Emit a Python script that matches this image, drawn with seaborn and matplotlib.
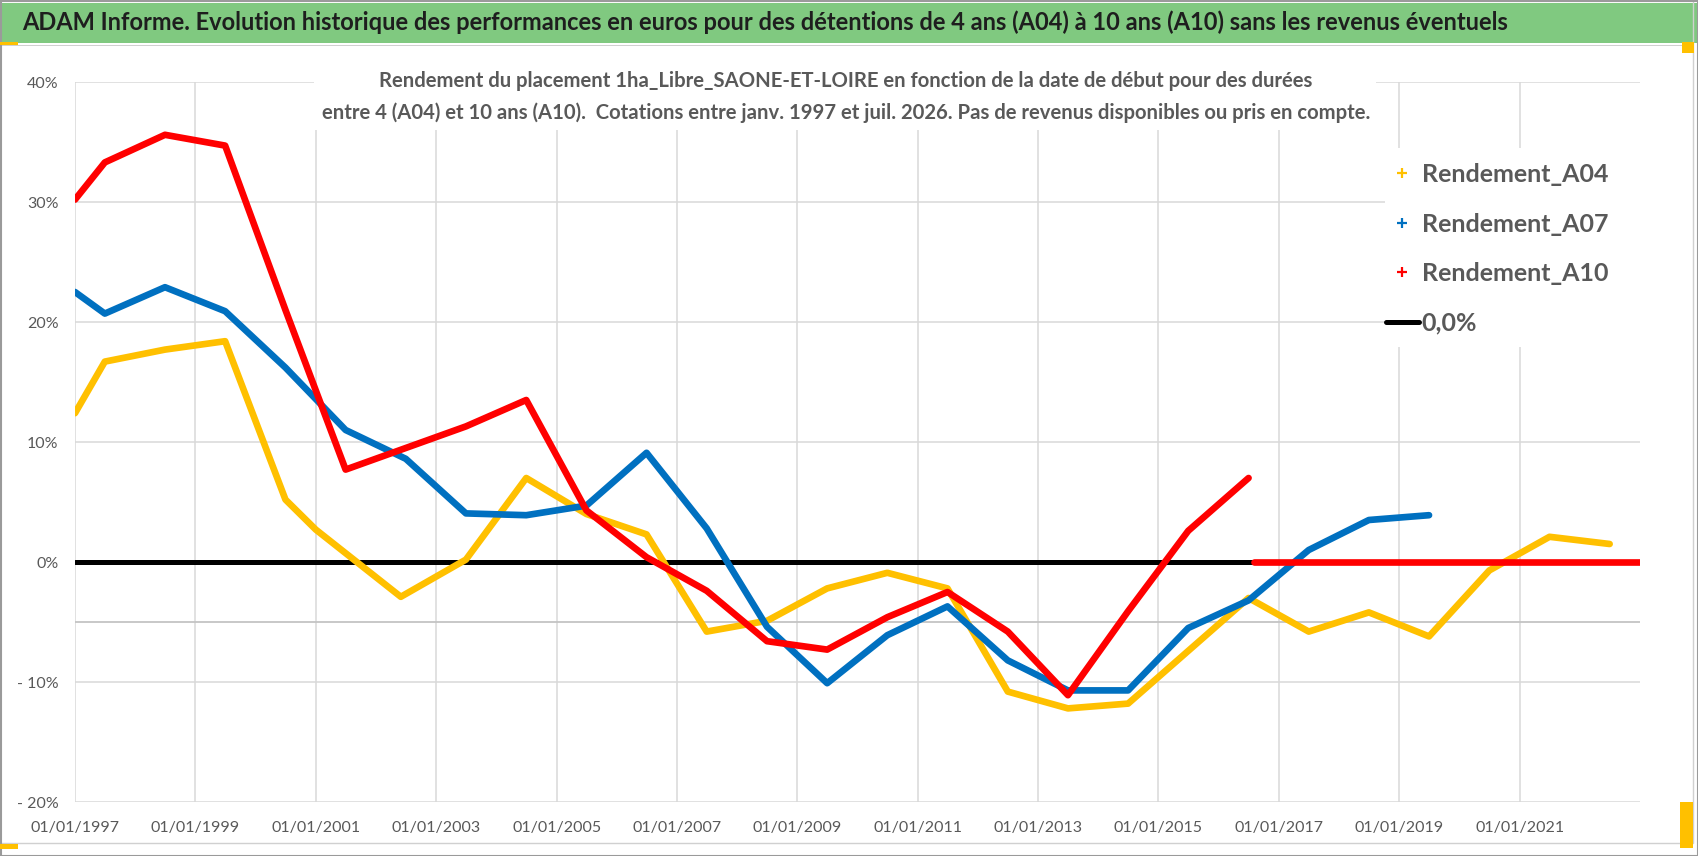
import matplotlib
matplotlib.use("Agg")
import matplotlib.pyplot as plt
import matplotlib.dates as mdates
from matplotlib.patches import Rectangle
from matplotlib.lines import Line2D
import pandas as pd
import seaborn as sns

title = ("ADAM Informe. Evolution historique des performances en euros pour des "
         "détentions de 4 ans (A04) à 10 ans (A10) sans les revenus éventuels")
subtitle = ("Rendement du placement 1ha_Libre_SAONE-ET-LOIRE en fonction de la date de début pour des durées\n"
            "entre 4 (A04) et 10 ans (A10).  Cotations entre janv. 1997 et juil. 2026. "
            "Pas de revenus disponibles ou pris en compte.")

series_names = ["Rendement_A04", "Rendement_A07", "Rendement_A10"]
zero_label = "0,0%"

# rendements en %, sommets
a04_dates = ["1997-01", "1997-07", "1998-07", "1999-07", "2000-07", "2001-01", "2002-06",
             "2003-07", "2004-07", "2005-07", "2006-07", "2007-07", "2008-07", "2009-07",
             "2010-07", "2011-07", "2012-07", "2013-07", "2014-07", "2016-07", "2017-07",
             "2018-07", "2019-07", "2020-07", "2021-07", "2022-07"]
a04_values = [12.4, 16.7, 17.7, 18.4, 5.2, 2.7, -2.9,
              0.2, 7.0, 4.0, 2.3, -5.8, -4.9, -2.2,
              -0.9, -2.2, -10.8, -12.2, -11.8, -3.0, -5.8,
              -4.2, -6.2, -0.7, 2.1, 1.5]

a07_dates = ["1997-01", "1997-07", "1998-07", "1999-07", "2000-07", "2001-07", "2002-07",
             "2003-07", "2004-07", "2005-07", "2006-07", "2007-07", "2008-07", "2009-07",
             "2010-07", "2011-07", "2012-07", "2013-07", "2014-07", "2015-07", "2016-07",
             "2017-07", "2018-07", "2019-07"]
a07_values = [22.5, 20.7, 22.9, 20.9, 16.2, 11.0, 8.6,
              4.05, 3.9, 4.7, 9.1, 2.8, -5.4, -10.1,
              -6.1, -3.7, -8.2, -10.7, -10.7, -5.5, -3.2,
              1.0, 3.5, 3.9]

a10_dates = ["1997-01", "1997-07", "1998-07", "1999-07", "2000-07", "2001-07", "2002-07",
             "2003-07", "2004-07", "2005-07", "2006-07", "2007-07", "2008-07", "2009-07",
             "2010-07", "2011-07", "2012-07", "2013-07", "2014-07", "2015-07", "2016-07"]
a10_values = [30.2, 33.3, 35.6, 34.7, 21.0, 7.7, 9.5,
              11.3, 13.5, 4.3, 0.4, -2.4, -6.6, -7.3,
              -4.6, -2.5, -5.8, -11.1, -4.1, 2.6, 7.0]
# A10 non calculable ensuite : mis a 0
a10_zero_dates = ["2016-08", "2023-01"]
a10_zero_values = [0.0, 0.0]

tick_years = [1997, 1999, 2001, 2003, 2005, 2007, 2009, 2011, 2013, 2015, 2017, 2019, 2021]
ytick_values = [-20, -10, 0, 10, 20, 30, 40]
ytick_labels = ["- 20%", "- 10%", "0%", "10%", "20%", "30%", "40%"]

colors = {"Rendement_A04": "#ffc000", "Rendement_A07": "#0070c0", "Rendement_A10": "#ff0000"}

frames = []
for name, seg, d, v in [
    ("Rendement_A04", "a04", a04_dates, a04_values),
    ("Rendement_A07", "a07", a07_dates, a07_values),
    ("Rendement_A10", "a10", a10_dates, a10_values),
    ("Rendement_A10", "a10z", a10_zero_dates, a10_zero_values),
]:
    frames.append(pd.DataFrame({"date": pd.to_datetime(d), "value": v,
                                "series": name, "seg": seg}))
df = pd.concat(frames, ignore_index=True)

sns.set_theme(style="white")
plt.rcParams["font.family"] = ["Lato", "DejaVu Sans"]

W, H = 1698, 856
fig = plt.figure(figsize=(W / 100, H / 100), dpi=100)
ax = fig.add_axes([75 / W, 54 / H, 1565 / W, 720 / H])

ax.axhline(0, color="black", lw=3.6, zorder=1.8)
ax.axhline(-5, color="#c4c4c4", lw=1.3, zorder=0.6)
sns.lineplot(data=df, x="date", y="value", hue="series", units="seg", estimator=None,
             hue_order=series_names, palette=colors, linewidth=4.8, sort=False,
             legend=False, ax=ax)

ax.set_xlim(pd.Timestamp("1997-01-01"), pd.Timestamp("2023-01-01"))
ax.set_ylim(-20, 40)
ax.set_xticks([pd.Timestamp(f"{y}-01-01") for y in tick_years])
ax.xaxis.set_major_formatter(mdates.DateFormatter("%d/%m/%Y"))
ax.set_yticks(ytick_values)
ax.set_yticklabels(ytick_labels)
ax.set_xlabel("")
ax.set_ylabel("")
ax.grid(True, color="#d9d9d9", lw=1.1)
ax.set_axisbelow(True)
for s in ax.spines.values():
    s.set_visible(False)
ax.tick_params(axis="both", length=0, labelsize=11.5, labelcolor="#595959")
ax.tick_params(axis="x", pad=14)
ax.tick_params(axis="y", pad=12)

# bandeau titre
fig.patches.append(Rectangle((0, 1 - 43 / H), 1, 40 / H, transform=fig.transFigure,
                             facecolor="#80c980", edgecolor="none", zorder=0))
fig.text(22 / W, 1 - 22 / H, title, ha="left", va="center", fontsize=17,
         fontweight="bold", color="#1e1e1e")
fig.patches.append(Rectangle((0, 1 - 45.5 / H), 1693 / W, 1 / H, transform=fig.transFigure,
                             facecolor="#d0d0d0", edgecolor="none"))

# zones blanches du sous-titre et de la legende
fig.patches.append(Rectangle((314 / W, 1 - 130 / H), 1062 / W, 70 / H,
                             transform=fig.transFigure, facecolor="white", edgecolor="none"))
fig.patches.append(Rectangle((1385 / W, 1 - 347 / H), 255 / W, 199 / H,
                             transform=fig.transFigure, facecolor="white", edgecolor="none"))

fig.text(846 / W, 1 - 97 / H, subtitle, ha="center", va="center", multialignment="center",
         fontsize=14.6, fontweight="bold", color="#595959", linespacing=1.7)

handles = [Line2D([], [], marker="+", color=colors[n], linestyle="none", markersize=7,
                  markeredgewidth=1.6) for n in series_names]
handles.append(Line2D([], [], color="black", lw=3.6))
fig.legend(handles, series_names + [zero_label], loc="upper left",
           bbox_to_anchor=(1376 / W, 1 - 153 / H), borderaxespad=0, frameon=False,
           prop={"size": 18, "weight": "bold"}, labelcolor="#595959",
           handlelength=1.3, handletextpad=0.12, labelspacing=1.06, borderpad=0.4)

# cadre
fig.patches.append(Rectangle((0, 13 / H), 1693 / W, 1 - 13 / H, transform=fig.transFigure,
                             fill=False, edgecolor="#d0d0d0", lw=1))
fig.patches.append(Rectangle((0.5 / W, 0.5 / H), 1 - 1 / W, 1 - 1 / H, transform=fig.transFigure,
                             fill=False, edgecolor="#9a9a9a", lw=1.5))
for x0, y0, w, h in [(0, 42, 18, 3), (1682, 42, 12, 11), (0, 844, 18, 5), (1680, 802, 13, 46)]:
    fig.patches.append(Rectangle((x0 / W, 1 - (y0 + h) / H), w / W, h / H,
                                 transform=fig.transFigure, facecolor="#ffc000",
                                 edgecolor="none"))

fig.savefig("out.png", dpi=100)
